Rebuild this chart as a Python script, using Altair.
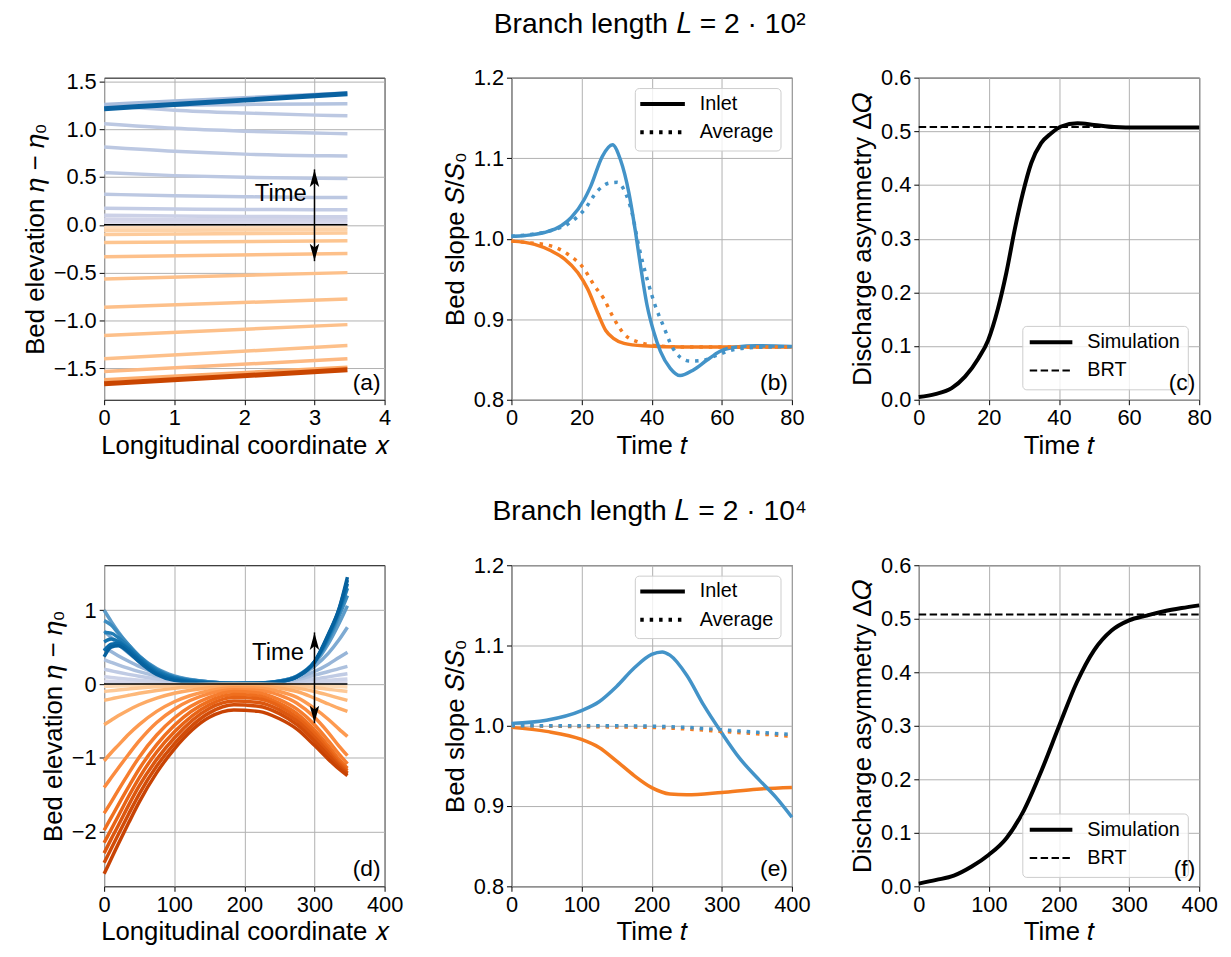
import altair as alt
import pandas as pd

FONT = "Liberation Sans"
BLUE = "#4393c8"
ORANGE = "#f57c20"

TITLE_1 = "Branch length 𝐿 = 2 · 10²"
TITLE_2 = "Branch length 𝐿 = 2 · 10⁴"

# ---------------- Panel (a): bed elevation profiles, L = 2e2 ----------------
A_X = [0, 1, 2, 3, 3.47]
A_BLUE = [
    [0.03, 0.028, 0.027, 0.026, 0.026],
    [0.06, 0.057, 0.055, 0.054, 0.054],
    [0.10, 0.093, 0.088, 0.085, 0.084],
    [0.174, 0.166, 0.161, 0.158, 0.157],
    [0.32, 0.305, 0.294, 0.287, 0.285],
    [0.546, 0.515, 0.497, 0.487, 0.484],
    [0.814, 0.77, 0.74, 0.724, 0.72],
    [1.058, 1.01, 0.98, 0.96, 0.954],
    [1.25, 1.2, 1.17, 1.148, 1.142],
    [1.24, 1.25, 1.26, 1.265, 1.267],
    [1.26, 1.295, 1.33, 1.365, 1.38],
]
A_BLUE_FINAL = [1.215, 1.26, 1.305, 1.35, 1.372]
A_ORANGE_X = [0, 3.47]
A_ORANGE = [
    [-0.03, -0.025],
    [-0.06, -0.05],
    [-0.10, -0.085],
    [-0.184, -0.167],
    [-0.334, -0.30],
    [-0.567, -0.50],
    [-0.862, -0.776],
    [-1.158, -1.044],
    [-1.402, -1.263],
    [-1.534, -1.402],
    [-1.621, -1.489],
]
A_ORANGE_FINAL = [-1.663, -1.517]
A_ZERO_X = [0, 3.47]
A_ZERO_Y = [0, 0]
A_ARROW = {"x": [3.0], "y0": [-0.38], "y1": [0.58]}
A_TIME = {"x": [2.89], "y": [0.32]}

# ---------------- Panel (d): bed elevation profiles, L = 2e4 ----------------
D_X = [0, 10, 20, 35, 50, 75, 100, 150, 185, 220, 250, 275, 300, 320, 335, 347]
D_BLUE = [
    [0.04, 0.036, 0.032, 0.027, 0.022, 0.015, 0.009, 0.003, 0.002, 0.002, 0.004, 0.008, 0.014, 0.02, 0.026, 0.03],
    [0.10, 0.09, 0.08, 0.066, 0.053, 0.035, 0.022, 0.008, 0.004, 0.004, 0.01, 0.02, 0.036, 0.05, 0.062, 0.07],
    [0.20, 0.18, 0.16, 0.132, 0.106, 0.07, 0.045, 0.016, 0.007, 0.008, 0.018, 0.038, 0.07, 0.098, 0.122, 0.14],
    [0.33, 0.295, 0.26, 0.212, 0.168, 0.11, 0.07, 0.024, 0.01, 0.012, 0.028, 0.06, 0.12, 0.17, 0.21, 0.24],
    [0.50, 0.44, 0.385, 0.31, 0.24, 0.15, 0.09, 0.028, 0.011, 0.013, 0.034, 0.08, 0.17, 0.27, 0.36, 0.43],
    [0.72, 0.63, 0.54, 0.42, 0.31, 0.18, 0.10, 0.03, 0.011, 0.014, 0.04, 0.10, 0.24, 0.42, 0.60, 0.77],
    [1.00, 0.85, 0.71, 0.53, 0.38, 0.21, 0.11, 0.03, 0.011, 0.014, 0.042, 0.11, 0.28, 0.55, 0.82, 1.06],
    [0.86, 0.80, 0.69, 0.53, 0.38, 0.20, 0.10, 0.028, 0.01, 0.013, 0.04, 0.11, 0.30, 0.60, 0.92, 1.20],
    [0.70, 0.69, 0.63, 0.51, 0.37, 0.19, 0.09, 0.024, 0.009, 0.012, 0.038, 0.10, 0.30, 0.63, 0.97, 1.30],
    [0.57, 0.61, 0.58, 0.48, 0.35, 0.17, 0.08, 0.02, 0.008, 0.011, 0.035, 0.10, 0.30, 0.65, 1.00, 1.36],
    [0.45, 0.54, 0.55, 0.46, 0.33, 0.15, 0.065, 0.015, 0.007, 0.01, 0.033, 0.10, 0.30, 0.67, 1.01, 1.41],
    [0.37, 0.50, 0.52, 0.43, 0.30, 0.13, 0.05, 0.01, 0.005, 0.008, 0.03, 0.10, 0.30, 0.68, 1.02, 1.45],
]
D_ORANGE = [
    [-0.03, -0.028, -0.025, -0.021, -0.017, -0.011, -0.007, -0.003, -0.002, -0.002, -0.004, -0.009, -0.018, -0.027, -0.034, -0.04],
    [-0.10, -0.09, -0.08, -0.066, -0.053, -0.035, -0.022, -0.008, -0.005, -0.005, -0.01, -0.022, -0.045, -0.07, -0.088, -0.10],
    [-0.22, -0.20, -0.18, -0.152, -0.125, -0.088, -0.058, -0.024, -0.013, -0.014, -0.028, -0.055, -0.10, -0.15, -0.19, -0.22],
    [-0.55, -0.49, -0.43, -0.35, -0.28, -0.19, -0.125, -0.05, -0.028, -0.03, -0.055, -0.10, -0.19, -0.27, -0.33, -0.37],
    [-1.04, -0.93, -0.83, -0.68, -0.55, -0.37, -0.24, -0.09, -0.05, -0.055, -0.10, -0.18, -0.33, -0.48, -0.61, -0.71],
    [-1.40, -1.27, -1.14, -0.95, -0.77, -0.52, -0.34, -0.13, -0.075, -0.085, -0.15, -0.26, -0.45, -0.66, -0.84, -0.97],
    [-1.75, -1.60, -1.44, -1.21, -0.99, -0.69, -0.46, -0.18, -0.10, -0.12, -0.21, -0.34, -0.55, -0.77, -0.95, -1.08],
    [-1.98, -1.81, -1.64, -1.39, -1.15, -0.82, -0.56, -0.23, -0.14, -0.16, -0.26, -0.40, -0.62, -0.84, -1.02, -1.14],
    [-2.15, -1.97, -1.79, -1.52, -1.27, -0.92, -0.65, -0.28, -0.18, -0.20, -0.30, -0.45, -0.67, -0.89, -1.06, -1.17],
    [-2.29, -2.10, -1.92, -1.64, -1.38, -1.02, -0.73, -0.33, -0.23, -0.25, -0.35, -0.50, -0.72, -0.93, -1.09, -1.20],
    [-2.42, -2.23, -2.04, -1.76, -1.49, -1.11, -0.81, -0.39, -0.28, -0.30, -0.40, -0.55, -0.77, -0.97, -1.12, -1.22],
    [-2.57, -2.37, -2.17, -1.88, -1.60, -1.20, -0.88, -0.45, -0.35, -0.37, -0.47, -0.61, -0.83, -1.02, -1.15, -1.24],
]
D_ZERO_X = [0, 347]
D_ZERO_Y = [0, 0]
D_ARROW = {"x": [300.0], "y0": [-0.53], "y1": [0.70]}
D_TIME = {"x": [285.0], "y": [0.42]}

# ---------------- Panel (b): bed slope, L = 2e2 ----------------
B_T_BLUE_IN = [0, 4, 9.4, 14.2, 17, 20.8, 22.6, 25.9, 28.8, 31.1, 33.5, 35.4, 36.8, 38.7, 40.6, 42.5, 45.3, 48.1, 51.9, 55.7, 59.4, 64.2, 69.8, 80]
B_BLUE_IN = [1.003, 1.004, 1.0077, 1.016, 1.026, 1.049, 1.065, 1.102, 1.1166, 1.098, 1.057, 1.008, 0.967, 0.917, 0.884, 0.86, 0.839, 0.830, 0.837, 0.849, 0.86, 0.8655, 0.867, 0.866]
B_T_BLUE_AV = [0, 5, 11.3, 16, 20.8, 24.5, 27.8, 30.2, 32.5, 34.4, 36.3, 38.7, 41, 43.4, 45.8, 48.1, 50.9, 54.7, 58.5, 63.2, 70, 80]
B_BLUE_AV = [1.003, 1.005, 1.010, 1.018, 1.036, 1.059, 1.069, 1.070, 1.057, 1.032, 0.991, 0.95, 0.917, 0.891, 0.866, 0.853, 0.848, 0.849, 0.855, 0.862, 0.865, 0.866]
B_T_OR_IN = [0, 6.6, 11.3, 15.1, 18.9, 21.7, 24.5, 26.9, 29.2, 32.1, 37.7, 49, 80]
B_OR_IN = [0.997, 0.993, 0.985, 0.975, 0.958, 0.938, 0.909, 0.886, 0.876, 0.870, 0.867, 0.8655, 0.8655]
B_T_OR_AV = [0, 5, 11.3, 16, 20.8, 23.6, 26.4, 29.2, 32.5, 36.8, 41.5, 50, 80]
B_OR_AV = [0.997, 0.995, 0.991, 0.981, 0.962, 0.942, 0.925, 0.901, 0.880, 0.871, 0.867, 0.8655, 0.8655]

# ---------------- Panel (e): bed slope, L = 2e4 ----------------
E_T_BLUE_IN = [0, 50, 100, 125, 150, 175, 200, 215, 226, 250, 274, 300, 325, 354, 377, 400]
E_BLUE_IN = [1.003, 1.007, 1.019, 1.030, 1.049, 1.072, 1.089, 1.092, 1.088, 1.063, 1.026, 0.991, 0.960, 0.932, 0.911, 0.886]
E_T_OR_IN = [0, 50, 100, 125, 150, 175, 200, 226, 250, 300, 350, 400]
E_OR_IN = [0.998, 0.993, 0.983, 0.973, 0.956, 0.938, 0.923, 0.915, 0.914, 0.917, 0.921, 0.923]
E_T_AV = [0, 50, 100, 150, 200, 250, 300, 350, 400]
E_BLUE_AV = [1.0, 1.0, 1.0, 1.0, 0.9995, 0.998, 0.995, 0.992, 0.989]
E_OR_AV = [1.0, 0.9995, 0.999, 0.9985, 0.998, 0.996, 0.993, 0.990, 0.987]

# ---------------- Panel (c), (f): discharge asymmetry ----------------
C_T = [0, 4.7, 9.4, 13.2, 17, 19.8, 22.6, 25, 27.4, 29.7, 32.1, 34.9, 37.7, 40.6, 45.3, 50, 55.7, 62.3, 80]
C_SIM = [0.005, 0.0105, 0.0216, 0.043, 0.077, 0.111, 0.170, 0.237, 0.318, 0.385, 0.441, 0.478, 0.496, 0.509, 0.515, 0.512, 0.508, 0.507, 0.507]
C_BRT_T = [0, 80]
C_BRT = [0.508, 0.508]
F_T = [0, 25, 50, 75.5, 100, 125, 150, 175, 200, 225, 250, 275, 300, 325, 350, 375, 400]
F_SIM = [0.005, 0.012, 0.02, 0.037, 0.059, 0.09, 0.142, 0.216, 0.299, 0.38, 0.441, 0.478, 0.497, 0.506, 0.514, 0.52, 0.525]
F_BRT_T = [0, 400]
F_BRT = [0.508, 0.508]

LEG_B = ["Inlet", "Average"]
LEG_C = ["Simulation", "BRT"]

# ---------------- styles ----------------
A_BLUE_COLORS = ["#d9d9eb", "#d3d5e9", "#ccd1e7", "#c3cce5", "#bcc8e2", "#bcc8e2", "#bcc8e2",
                 "#bcc8e2", "#bcc8e2", "#b4c4e0", "#a8bcdc"]
A_ORANGE_COLORS = ["#fedcbb", "#fdd3a9", "#fdcb9b", "#fdc590", "#fdc08a", "#fdc08a", "#fdc08a",
                   "#fdc08a", "#fdc08a", "#fdb983", "#fcac6c"]
D_BLUE_COLORS = ["#d7d8ea", "#cdd3e8", "#c0cbe4", "#adc1de", "#97b5d8", "#7eaad2", "#5e9cc9",
                 "#3d8cbf", "#237db5", "#1473ae", "#0b6aa7", "#06619e"]
D_ORANGE_COLORS = ["#fdd9b4", "#fdc997", "#fdb97b", "#fdab66", "#fd9a50", "#fb8b3f", "#f67d2e",
                   "#ef6f1f", "#e76316", "#dc570f", "#d24c08", "#c84304"]
DARK_BLUE = "#0a62a1"
DARK_ORANGE = "#c94500"
DOT = [3.5, 6]
DASH = [7.5, 3.5]

W = 283
H1 = 325
H2 = 324


def axis(values, fmt, title, tpad):
    return alt.Axis(values=values, format=fmt, title=title, grid=True, gridColor="#b0b0b0",
                    gridWidth=1, domain=False, ticks=True, tickColor="black", tickSize=5,
                    tickWidth=1, labelFont=FONT, labelFontSize=22, labelColor="black",
                    labelPadding=3, labelFlush=False, labelOverlap=False, titleFont=FONT,
                    titleFontSize=26, titleFontWeight="normal", titleColor="black",
                    titlePadding=tpad)


def make_x(domain, values, fmt, title):
    def f(field):
        return alt.X(f"{field}:Q", scale=alt.Scale(domain=domain, nice=False, zero=False),
                     axis=axis(values, fmt, title, 4))
    return f


def make_y(domain, values, fmt, title):
    def f(field):
        return alt.Y(f"{field}:Q", scale=alt.Scale(domain=domain, nice=False, zero=False),
                     axis=axis(values, fmt, title, 5))
    return f


def family_df(xs, rows, prefix):
    recs = []
    for i, row in enumerate(rows):
        for xv, yv in zip(xs, row):
            recs.append({"x": xv, "y": yv, "line": f"{prefix}{i:02d}"})
    return pd.DataFrame(recs)


def family_layer(df, colors, width, X, Y):
    ids = list(dict.fromkeys(df["line"]))
    return alt.Chart(df).mark_line(strokeWidth=width, interpolate="monotone").encode(
        x=X("x"), y=Y("y"), detail="line:N",
        color=alt.Color("line:N", scale=alt.Scale(domain=ids, range=colors), legend=None))


def series_layer(xs, ys, color, width, X, Y, dash=None):
    df = pd.DataFrame({"x": xs, "y": ys})
    kw = dict(color=color, strokeWidth=width, interpolate="monotone")
    if dash is not None:
        kw["strokeDash"] = dash
    return alt.Chart(df).mark_line(**kw).encode(x=X("x"), y=Y("y"))


def arrow_layers(arrow, time, X, Y):
    adf = pd.DataFrame(arrow)
    rule = alt.Chart(adf).mark_rule(color="black", strokeWidth=1.5).encode(
        x=X("x"), y=Y("y0"), y2="y1:Q")
    up = alt.Chart(adf).mark_point(shape="M0,-1L0.55,1L0,0.55L-0.55,1Z", filled=True,
                                   color="black", size=300, opacity=1, yOffset=9).encode(
        x=X("x"), y=Y("y1"))
    down = alt.Chart(adf).mark_point(shape="M0,1L0.55,-1L0,-0.55L-0.55,-1Z", filled=True,
                                     color="black", size=300, opacity=1, yOffset=-9).encode(
        x=X("x"), y=Y("y0"))
    tdf = pd.DataFrame(time)
    txt = alt.Chart(tdf).mark_text(text="Time", align="right", baseline="middle",
                                   fontSize=24, font=FONT, color="black").encode(
        x=X("x"), y=Y("y"))
    return [rule, up, down, txt]


def one(**cols):
    return pd.DataFrame({k: [v] for k, v in cols.items()})


def panel_label(text, H):
    return alt.Chart(one(t=text)).mark_text(align="right", baseline="bottom", fontSize=23,
                                            font=FONT, color="black").encode(
        text="t:N", x=alt.value(W - 4), y=alt.value(H - 5))


def title_layer(text):
    return alt.Chart(one(t=text)).mark_text(align="center", baseline="alphabetic", fontSize=28.5,
                                            font=FONT, color="black").encode(
        text="t:N", x=alt.value(W / 2 - 2), y=alt.value(-45.5))


def legend_layers(labels, dashes, widths, box, sx, tx, ys):
    out = [alt.Chart(one(k=0)).mark_rect(fill="white", fillOpacity=0.8, stroke="#cccccc",
                                         strokeWidth=1, cornerRadius=4).encode(
        x=alt.value(box[0]), x2=alt.value(box[1]), y=alt.value(box[2]), y2=alt.value(box[3]))]
    for lab, d, w, yv in zip(labels, dashes, widths, ys):
        kw = dict(color="black", strokeWidth=w)
        if d is not None:
            kw["strokeDash"] = d
        out.append(alt.Chart(one(k=0)).mark_rule(**kw).encode(
            x=alt.value(sx[0]), x2=alt.value(sx[1]), y=alt.value(yv)))
        out.append(alt.Chart(one(t=lab)).mark_text(align="left", baseline="middle", fontSize=20,
                                                   font=FONT, color="black").encode(
            text="t:N", x=alt.value(tx), y=alt.value(yv)))
    return out


# ---------------- Panel (a) ----------------
Xa = make_x([0, 4], [0, 1, 2, 3, 4], "d", "Longitudinal coordinate 𝑥")
Ya = make_y([-1.83, 1.54], [-1.5, -1.0, -0.5, 0.0, 0.5, 1.0, 1.5], ".1f", "Bed elevation 𝜂 − 𝜂₀")
pa = alt.layer(
    family_layer(family_df(A_X, A_BLUE, "b"), A_BLUE_COLORS, 3.5, Xa, Ya),
    family_layer(family_df(A_ORANGE_X, A_ORANGE, "o"), A_ORANGE_COLORS, 3.5, Xa, Ya),
    series_layer(A_X, A_BLUE_FINAL, DARK_BLUE, 5, Xa, Ya),
    series_layer(A_ORANGE_X, A_ORANGE_FINAL, DARK_ORANGE, 5, Xa, Ya),
    series_layer(A_ZERO_X, A_ZERO_Y, "black", 1.5, Xa, Ya),
    *arrow_layers(A_ARROW, A_TIME, Xa, Ya),
    panel_label("(a)", H1),
).resolve_scale(color="independent").properties(width=W, height=H1)

# ---------------- Panel (b) ----------------
Xb = make_x([0, 80], [0, 20, 40, 60, 80], "d", "Time 𝑡")
Yb = make_y([0.8, 1.2], [0.8, 0.9, 1.0, 1.1, 1.2], ".1f", "Bed slope 𝑆/𝑆₀")
pb = alt.layer(
    series_layer(B_T_OR_IN, B_OR_IN, ORANGE, 3.5, Xb, Yb),
    series_layer(B_T_BLUE_IN, B_BLUE_IN, BLUE, 3.5, Xb, Yb),
    series_layer(B_T_OR_AV, B_OR_AV, ORANGE, 3.5, Xb, Yb, DOT),
    series_layer(B_T_BLUE_AV, B_BLUE_AV, BLUE, 3.5, Xb, Yb, DOT),
    *legend_layers(LEG_B, [None, DOT], [4, 4], (125, 272, 11, 74), (130, 175), 190, (26.5, 55)),
    panel_label("(b)", H1),
    title_layer(TITLE_1),
).properties(width=W, height=H1)

# ---------------- Panel (c) ----------------
Xc = make_x([0, 80], [0, 20, 40, 60, 80], "d", "Time 𝑡")
Yc = make_y([0, 0.6], [0, 0.1, 0.2, 0.3, 0.4, 0.5, 0.6], ".1f", "Discharge asymmetry Δ𝑄")
pc = alt.layer(
    series_layer(C_BRT_T, C_BRT, "black", 2, Xc, Yc, DASH),
    series_layer(C_T, C_SIM, "black", 4, Xc, Yc),
    *legend_layers(LEG_C, [None, DASH], [4, 2], (105, 272, 251, 315), (112, 155), 170, (267, 295.5)),
    panel_label("(c)", H1),
).properties(width=W, height=H1)

# ---------------- Panel (d) ----------------
Xd = make_x([0, 400], [0, 100, 200, 300, 400], "d", "Longitudinal coordinate 𝑥")
Yd = make_y([-2.74, 1.61], [-2, -1, 0, 1], "d", "Bed elevation 𝜂 − 𝜂₀")
pd_ = alt.layer(
    family_layer(family_df(D_X, D_BLUE, "b"), D_BLUE_COLORS, 3.5, Xd, Yd),
    family_layer(family_df(D_X, D_ORANGE, "o"), D_ORANGE_COLORS, 3.5, Xd, Yd),
    series_layer(D_ZERO_X, D_ZERO_Y, "black", 1.5, Xd, Yd),
    *arrow_layers(D_ARROW, D_TIME, Xd, Yd),
    panel_label("(d)", H2),
).resolve_scale(color="independent").properties(width=W, height=H2)

# ---------------- Panel (e) ----------------
Xe = make_x([0, 400], [0, 100, 200, 300, 400], "d", "Time 𝑡")
Ye = make_y([0.8, 1.2], [0.8, 0.9, 1.0, 1.1, 1.2], ".1f", "Bed slope 𝑆/𝑆₀")
pe = alt.layer(
    series_layer(E_T_OR_IN, E_OR_IN, ORANGE, 3.5, Xe, Ye),
    series_layer(E_T_BLUE_IN, E_BLUE_IN, BLUE, 3.5, Xe, Ye),
    series_layer(E_T_AV, E_OR_AV, ORANGE, 3.5, Xe, Ye, DOT),
    series_layer(E_T_AV, E_BLUE_AV, BLUE, 3.5, Xe, Ye, DOT),
    *legend_layers(LEG_B, [None, DOT], [4, 4], (125, 272, 11, 74), (130, 175), 190, (26.5, 55)),
    panel_label("(e)", H2),
    title_layer(TITLE_2),
).properties(width=W, height=H2)

# ---------------- Panel (f) ----------------
Xf = make_x([0, 400], [0, 100, 200, 300, 400], "d", "Time 𝑡")
Yf = make_y([0, 0.6], [0, 0.1, 0.2, 0.3, 0.4, 0.5, 0.6], ".1f", "Discharge asymmetry Δ𝑄")
pf = alt.layer(
    series_layer(F_BRT_T, F_BRT, "black", 2, Xf, Yf, DASH),
    series_layer(F_T, F_SIM, "black", 4, Xf, Yf),
    *legend_layers(LEG_C, [None, DASH], [4, 2], (105, 272, 251, 315), (112, 155), 170, (267, 295.5)),
    panel_label("(f)", H2),
).properties(width=W, height=H2)

chart = (
    alt.concat(pa, pb, pc, pd_, pe, pf, columns=3, bounds="flush",
               spacing={"row": 167, "column": 128})
    .resolve_scale(color="independent")
    .properties(padding={"left": 14, "top": -3, "right": 5, "bottom": 5}, background="white")
    .configure_view(stroke="black", strokeWidth=1)
    .configure_text(font=FONT)
)

chart.save("out.html", embed_options={"renderer": "svg", "actions": False})
